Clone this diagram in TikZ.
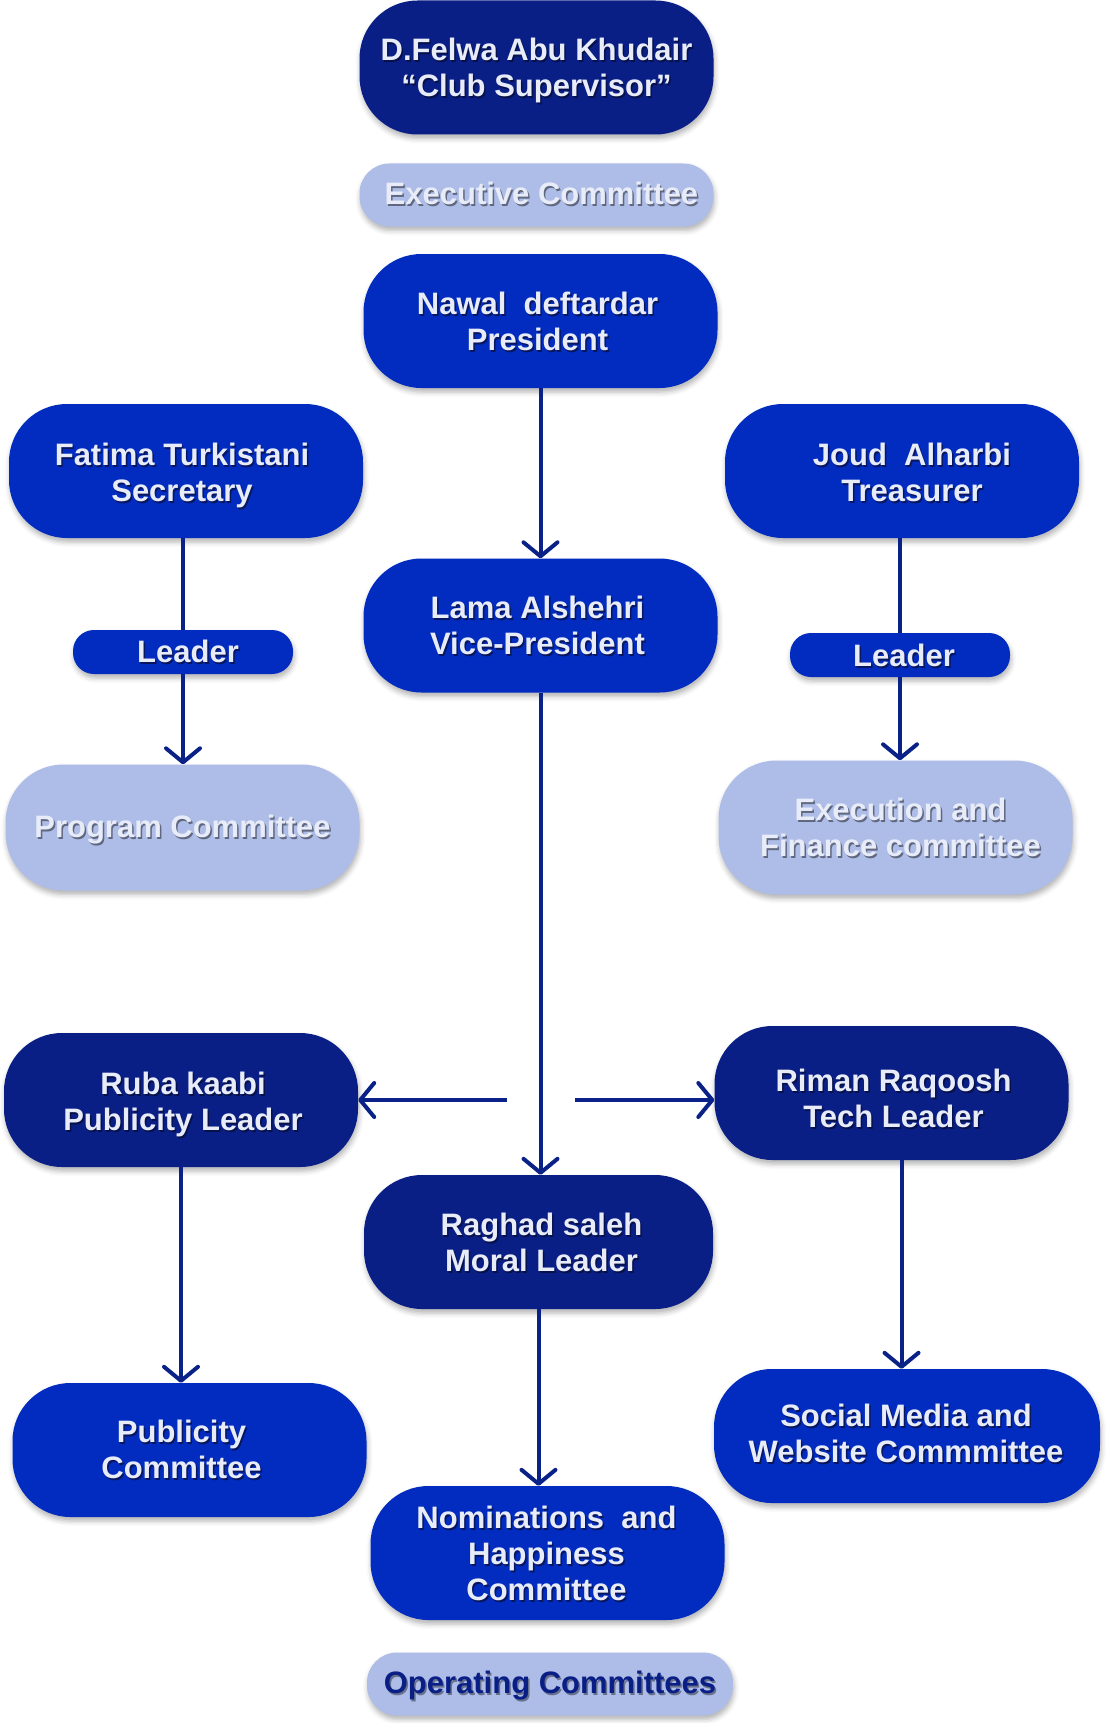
\documentclass[tikz,border=0pt]{standalone}
\usepackage{fontspec}
\setmainfont{Liberation Sans}
\usetikzlibrary{arrows.meta,shadows.blur}
\definecolor{dnavy}{RGB}{10,31,134}
\definecolor{mblue}{RGB}{1,44,191}
\definecolor{lblue}{RGB}{174,189,232}
\definecolor{txtw}{RGB}{232,236,248}
\definecolor{arrowc}{RGB}{10,33,136}
\colorlet{shc}{black}
\newcommand\sh[1]{\leavevmode\rlap{\kern1.5pt\raisebox{-2pt}[0pt][0pt]{\color{shc}#1}}#1}
\begin{document}
\begin{tikzpicture}[x=1pt,y=-1pt,
  base/.style={rectangle, rounded corners=58pt, inner sep=0pt,
    minimum width=354pt, minimum height=134pt,
    blur shadow={shadow xshift=1pt, shadow yshift=-4pt, shadow blur radius=5pt, shadow opacity=30}},
  darkbox/.style={base, fill=dnavy},
  medbox/.style={base, fill=mblue},
  lightbox/.style={base, fill=lblue},
  pill/.style={minimum width=220pt, minimum height=44pt, rounded corners=21pt},
  band/.style={minimum height=63pt, rounded corners=30pt},
  txt/.style={inner sep=0pt, align=center, text=txtw, font=\bfseries\fontsize{31}{36}\selectfont},
  dtxt/.style={txt, execute at begin node={\colorlet{shc}{dnavy!55!black}}},
  mtxt/.style={txt, execute at begin node={\colorlet{shc}{dnavy!70!black}}},
  ltxt/.style={txt, execute at begin node={\colorlet{shc}{lblue!55!black}}},
  conn/.style={draw=arrowc, line width=4pt},
  arr/.style={conn, -{Straight Barb[length=14pt,width=34pt,round]}}
]
\useasboundingbox (0,0) rectangle (1105,1723);

% shapes
\node[darkbox] (sup) at (536.5,67.5) {};
\node[lightbox, band] (exec) at (536.5,195) {};
\node[medbox] (pres) at (540.5,321) {};
\node[medbox] (sec) at (186,471) {};
\node[medbox] (tre) at (902,471) {};
\node[medbox, pill] (leadL) at (183,652) {};
\node[medbox, pill] (leadR) at (900,655) {};
\node[lightbox, minimum height=126pt] (prog) at (182.5,827.5) {};
\node[lightbox] (exfin) at (895.5,827.5) {};
\node[medbox] (vp) at (540.5,625.5) {};
\node[darkbox] (ruba) at (181,1100) {};
\node[darkbox] (riman) at (891.5,1093) {};
\node[darkbox, minimum width=349pt] (raghad) at (538.5,1242) {};
\node[medbox] (pub) at (189.5,1450) {};
\node[medbox, minimum width=386pt] (social) at (907,1436) {};
\node[medbox] (nom) at (547.5,1553) {};
\node[lightbox, band, minimum width=366pt] (oper) at (550,1684) {};

% texts
\node[dtxt] (supT) at ([yshift=-3pt]sup.center) {\sh{D.Felwa Abu Khudair}\\\sh{“Club Supervisor”}};
\node[ltxt] (execT) at ([xshift=5pt,yshift=2pt]exec.center) {\sh{Executive Committee}};
\node[mtxt] (presT) at ([xshift=-3pt]pres.center) {\sh{Nawal\ \ deftardar}\\\sh{President}};
\node[mtxt] (secT) at ([xshift=-4pt,yshift=-4pt]sec.center) {\sh{Fatima Turkistani}\\\sh{Secretary}};
\node[mtxt] (treT) at ([xshift=10pt,yshift=-1pt]tre.center) {\sh{Joud\ \ Alharbi}\\\sh{Treasurer}};
\node[mtxt] (leadLT) at ([xshift=5pt,yshift=1pt]leadL.center) {\sh{Leader}};
\node[mtxt] (leadRT) at ([xshift=4pt]leadR.center) {\sh{Leader}};
\node[ltxt] (progT) at ([yshift=-2pt]prog.center) {\sh{Program Committee}};
\node[ltxt] (exfinT) at ([xshift=5pt]exfin.center) {\sh{Execution and}\\\sh{Finance committee}};
\node[mtxt] (vpT) at ([xshift=-3pt]vp.center) {\sh{Lama Alshehri}\\\sh{Vice-President}};
\node[dtxt] (rubaT) at ([xshift=2pt,yshift=-4pt]ruba.center) {\sh{Ruba kaabi}\\\sh{Publicity Leader}};
\node[dtxt] (rimanT) at ([xshift=2pt,yshift=-5pt]riman.center) {\sh{Riman Raqoosh}\\\sh{Tech Leader}};
\node[dtxt] (raghadT) at ([xshift=3pt]raghad.center) {\sh{Raghad saleh}\\\sh{Moral Leader}};
\node[mtxt] (pubT) at ([xshift=-8pt,yshift=1pt]pub.center) {\sh{Publicity}\\\sh{Committee}};
\node[mtxt] (socialT) at ([xshift=-1pt,yshift=3pt]social.center) {\sh{Social Media and}\\\sh{Website Commmittee}};
\node[mtxt] (nomT) at ([xshift=-1pt]nom.center) {\sh{Nominations\ \ and}\\\sh{Happiness}\\\sh{Committee}};
\node[txt, text=dnavy, execute at begin node={\colorlet{shc}{lblue!60!black}}] (operT)
  at ([yshift=-2pt]oper.center) {\sh{Operating Committees}};

% connectors
\coordinate (hl) at (507,1100);
\coordinate (hr) at (575,1100);

\draw[arr] (pres.south) -- (pres.south |- vp.north);
\draw[conn] (sec.south -| leadL.north) -- (leadL.north);
\draw[arr] (leadL.south) -- (leadL.south |- prog.north);
\draw[conn] (tre.south -| leadR.north) -- (leadR.north);
\draw[arr] (leadR.south) -- (leadR.south |- exfin.north);
\draw[arr] (vp.south) -- (vp.south |- raghad.north);
\draw[arr] (hl) -- (hl -| ruba.east);
\draw[arr] (hr) -- (hr -| riman.west);
\draw[arr] (ruba.south) -- (ruba.south |- pub.north);
\draw[arr] ([xshift=10pt]riman.south) -- ([xshift=10pt]riman.south |- social.north);
\draw[arr] (raghad.south) -- (raghad.south |- nom.north);
\end{tikzpicture}
\end{document}
